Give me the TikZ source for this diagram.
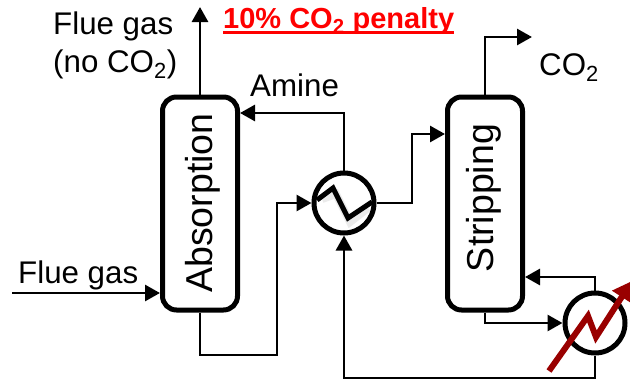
\documentclass[tikz,border=0pt]{standalone}
\usepackage{fontspec}
\setmainfont{Liberation Sans}
\usetikzlibrary{arrows.meta}

\definecolor{heatred}{HTML}{990000}

\tikzset{
  column/.style={draw,line width=5pt,rounded corners=14pt,minimum width=75pt,minimum height=213pt,inner sep=0pt},
  exchanger/.style={draw,circle,line width=5pt,minimum size=60pt,inner sep=0pt},
  flow/.style={line width=2.8pt,-{Triangle[length=15pt,width=16pt]}},
  lbl/.style={inner sep=0pt,font=\fontsize{31.3}{36}\selectfont,align=left},
  vlbl/.style={inner sep=0pt,font=\fontsize{37.5}{42}\selectfont,rotate=90}
}

\begin{document}
\begin{tikzpicture}[x=1pt,y=-1pt]

  % Fix the page to the size of the reference
  \useasboundingbox (0,0) rectangle (630,383);

  % Columns
  \node[column] (absorption) at (200,203.5) {};
  \node[column] (stripping) at (485,203.5) {};
  \node[vlbl] (absorptiontext) at (203,203) {Absorption};
  \node[vlbl] (strippingtext) at (484,198) {Stripping};

  % Heat exchangers
  \node[exchanger] (hxone) at (344,203) {};
  \node[exchanger] (hxtwo) at (595,323) {};

  % Free ends and corners of the pipes
  \coordinate (fluein) at (12,293);
  \coordinate (flueout) at (200,7);
  \coordinate (amine) at (344,113);
  \coordinate (richbottom) at (277,355);
  \coordinate (richup) at (412,134);
  \coordinate (leanbottom) at (344,378);
  \coordinate (reboil) at (595,277);
  \coordinate (coout) at (532,37);

  % Pipes around the absorption column
  \draw[flow] (fluein) -- (fluein -| absorption.west);
  \draw[flow] (absorption.north) -- (flueout);
  \draw[flow] (hxone.north) -- (amine) -- (amine -| absorption.east);
  \draw[flow] (absorption.south) |- (richbottom) |- (hxone.west);

  % Pipes around the stripping column
  \draw[flow] (hxone.east) -| (richup) -- (richup -| stripping.west);
  \draw[flow] (stripping.north) |- (coout);
  \draw[flow] (hxtwo.north) |- (reboil -| stripping.east);
  \draw[flow] (stripping.south) |- (hxtwo.west);
  \draw[flow] (hxtwo.south) |- (leanbottom) -- (hxone.south);

  % Soft shadow of the zigzag
  \draw[black,opacity=0.08,line width=8pt] (322,199) -- (336,194) -- (350,222) -- (368,208);

  % Zigzag in the first exchanger
  \draw[line width=5pt,miter limit=4] (317,200) -- (333,188) -- (348,218) -- (372,202);

  % Heating arrow through the second exchanger
  \draw[heatred,line width=6pt,-{Triangle[length=19pt,width=22pt]}] (549,371) -- (588,316) -- (596,337) -- (632,281);

  % Labels
  \node[lbl,anchor=base west] (fluetop) at (53,34) {Flue gas};
  \node[lbl,anchor=base west] (noco) at (53,72) {(no CO\textsubscript{2})};
  \node[lbl,anchor=base west] (fluegas) at (18,283) {Flue gas};
  \node[lbl,anchor=base west] (aminetext) at (250,96) {Amine};
  \node[lbl,anchor=base west] (cotext) at (539,75) {CO\textsubscript{2}};
  \node[lbl,anchor=base west,text=red,font=\fontsize{29}{34}\selectfont\bfseries] (penalty) at (223,28) {10\% CO\textsubscript{2} penalty};
  \draw[red,line width=2.5pt] ([yshift=-4.5pt]penalty.base west) -- ([yshift=-4.5pt]penalty.base east);

\end{tikzpicture}
\end{document}
